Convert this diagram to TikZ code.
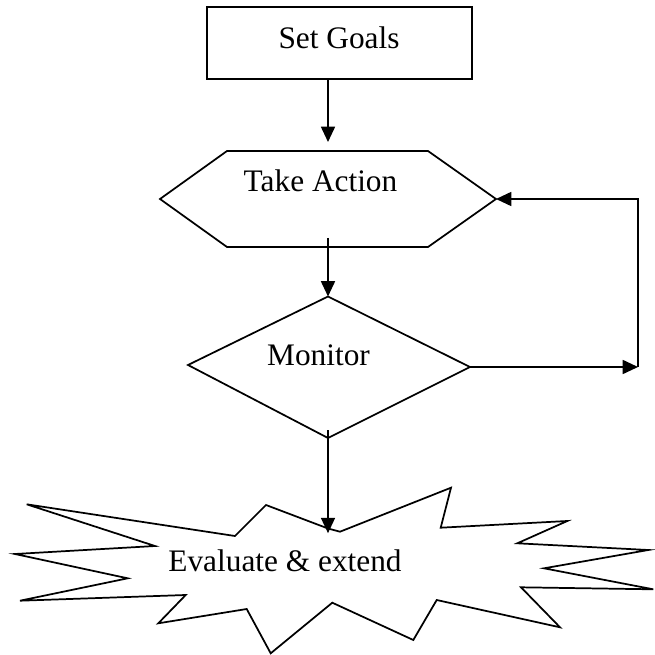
\documentclass[tikz,border=0pt]{standalone}
\usepackage{fontspec}
\setmainfont{Liberation Serif}
\usetikzlibrary{arrows.meta}

\tikzset{
  flow/.style={-{Triangle[length=11.5pt,width=10.5pt]}},
  steptext/.style={inner sep=0pt, font=\fontsize{23.5}{28}\selectfont},
}

\begin{document}
\begin{tikzpicture}[x=0.75pt,y=0.75pt,yscale=-1,xscale=1,line width=1.3pt]
    \useasboundingbox (0,0) rectangle (654,655); %set diagram size to 654 x 655

    %Shape: Rectangle (goals)
    \node [draw, minimum width=198.75pt, minimum height=54pt, inner sep=0pt] (goals) at (339.5,43) {};
    %Shape: Hexagon (action)
    \coordinate (act-w) at (160,199);
    \coordinate (act-nw) at (227,151);
    \coordinate (act-ne) at (428,151);
    \coordinate (act-e) at (496,199);
    \coordinate (act-se) at (428,247);
    \coordinate (act-sw) at (227,247);
    \coordinate (act-n) at (328,151);
    \coordinate (act-s) at (328,247);
    \draw (act-w) -- (act-nw) -- (act-ne) -- (act-e) -- (act-se) -- (act-sw) -- cycle;
    %Shape: Diamond (monitor)
    \coordinate (mon-n) at (328,296.5);
    \coordinate (mon-e) at (470,367);
    \coordinate (mon-s) at (328,438);
    \coordinate (mon-w) at (188,365);
    \draw (mon-n) -- (mon-e) -- (mon-s) -- (mon-w) -- cycle;
    %Shape: Starburst (evaluate)
    \coordinate (burst-n) at (328,528.5);
    \draw (burst-n) -- (340,531.7) -- (451,487.7) -- (440.7,527.7) -- (567.3,521)
      -- (517.3,543.3) -- (648.3,550) -- (544,568.3) -- (653.3,589.3) -- (521,587.3)
      -- (560,627.3) -- (436.7,600) -- (413.3,640) -- (332.3,602.7) -- (270.7,653.3)
      -- (246.7,609) -- (158.3,623.3) -- (185.7,595) -- (20,600.7) -- (127.7,578.3)
      -- (15,554) -- (155,546) -- (26.7,504.3) -- (235,536) -- (266,505) -- cycle;

    %Loop corners
    \coordinate (loop-b) at (638,367);
    \coordinate (loop-t) at (638,199);

    %Connectors
    \draw [flow, shorten >=6.75pt] (goals.south -| act-n) -- (act-n);
    \draw [flow, shorten <=-6.75pt] (act-s) -- (mon-n);
    \draw [flow, shorten <=-6pt, shorten >=-3.5pt] (mon-s) -- (burst-n);
    \draw [flow] (mon-e) -- (loop-b);
    \draw [flow] (loop-b) -- (loop-t) -- (act-e);

    % Text Node
    \node [steptext] (goals-txt) at (339,37.5) {Set Goals};
    % Text Node
    \node [steptext] (act-txt) at (320.5,181) {Take Action};
    % Text Node
    \node [steptext] (mon-txt) at (318.5,355) {Monitor};
    % Text Node
    \node [steptext] (eval-txt) at (285,561) {Evaluate \& extend};

\end{tikzpicture}
\end{document}
